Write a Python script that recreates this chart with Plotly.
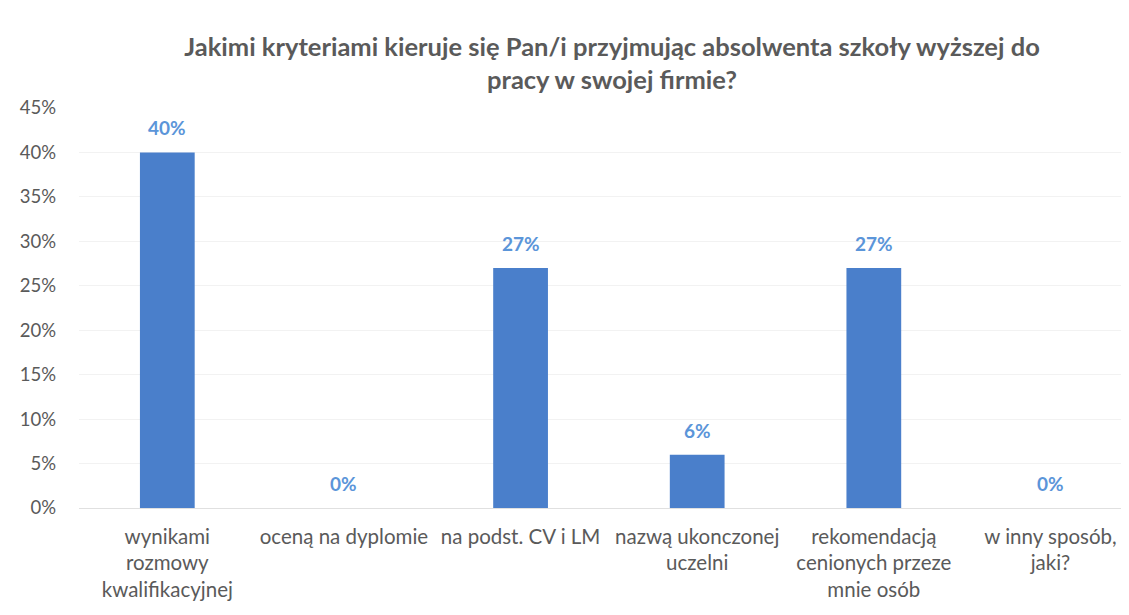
import plotly.graph_objects as go

categories = [
    "wynikami<br>rozmowy<br>kwalifikacyjnej",
    "oceną na dyplomie",
    "na podst. CV i LM",
    "nazwą ukonczonej<br>uczelni",
    "rekomendacją<br>cenionych przeze<br>mnie osób",
    "w inny sposób,<br>jaki?",
]
values = [40, 0, 27, 6, 27, 0]
y_ticks = [0, 5, 10, 15, 20, 25, 30, 35, 40, 45]
title = "Jakimi kryteriami kieruje się Pan/i przyjmując absolwenta szkoły wyższej do<br>pracy w swojej firmie?"

FONT = "Lato, 'Open Sans', sans-serif"
x_idx = list(range(len(categories)))

fig = go.Figure()
fig.add_trace(go.Bar(
    x=x_idx, y=values, width=0.31,
    marker=dict(color="#4a7fcb", line=dict(width=0)),
    hoverinfo="skip",
))

for i, v in zip(x_idx, values):
    fig.add_annotation(
        x=i, y=v, text=f"<b>{v}%</b>", showarrow=False,
        yanchor="bottom", yshift=11,
        font=dict(family=FONT, size=19, color="#5b95d9"),
    )

fig.update_layout(
    width=1129, height=615,
    margin=dict(l=71, r=0, t=100, b=115),
    paper_bgcolor="white", plot_bgcolor="white",
    showlegend=False,
    title=dict(
        text=f"<b>{title}</b>", x=0.535, xanchor="center",
        y=0.922, yanchor="middle",
        font=dict(family=FONT, size=25.5, color="#5a5a5a"),
    ),
    xaxis=dict(
        tickmode="array", tickvals=x_idx, ticktext=categories,
        range=[-0.5, 5.49], showgrid=False, zeroline=False,
        showline=False, ticks="", automargin=False,
        tickfont=dict(family=FONT, size=20.5, color="#5a5a5a"),
        ticklabelstandoff=14,
    ),
    yaxis=dict(
        range=[0, 45], tickmode="array", tickvals=y_ticks,
        ticktext=[f"{t}%" for t in y_ticks],
        showgrid=True, gridcolor="#f2f2f2", gridwidth=1,
        zeroline=True, zerolinecolor="#e0e0e0", zerolinewidth=1,
        showline=False, ticks="", automargin=False,
        tickfont=dict(family=FONT, size=18.5, color="#5a5a5a"),
        ticklabelstandoff=22,
    ),
)

fig.write_html("out.html")
